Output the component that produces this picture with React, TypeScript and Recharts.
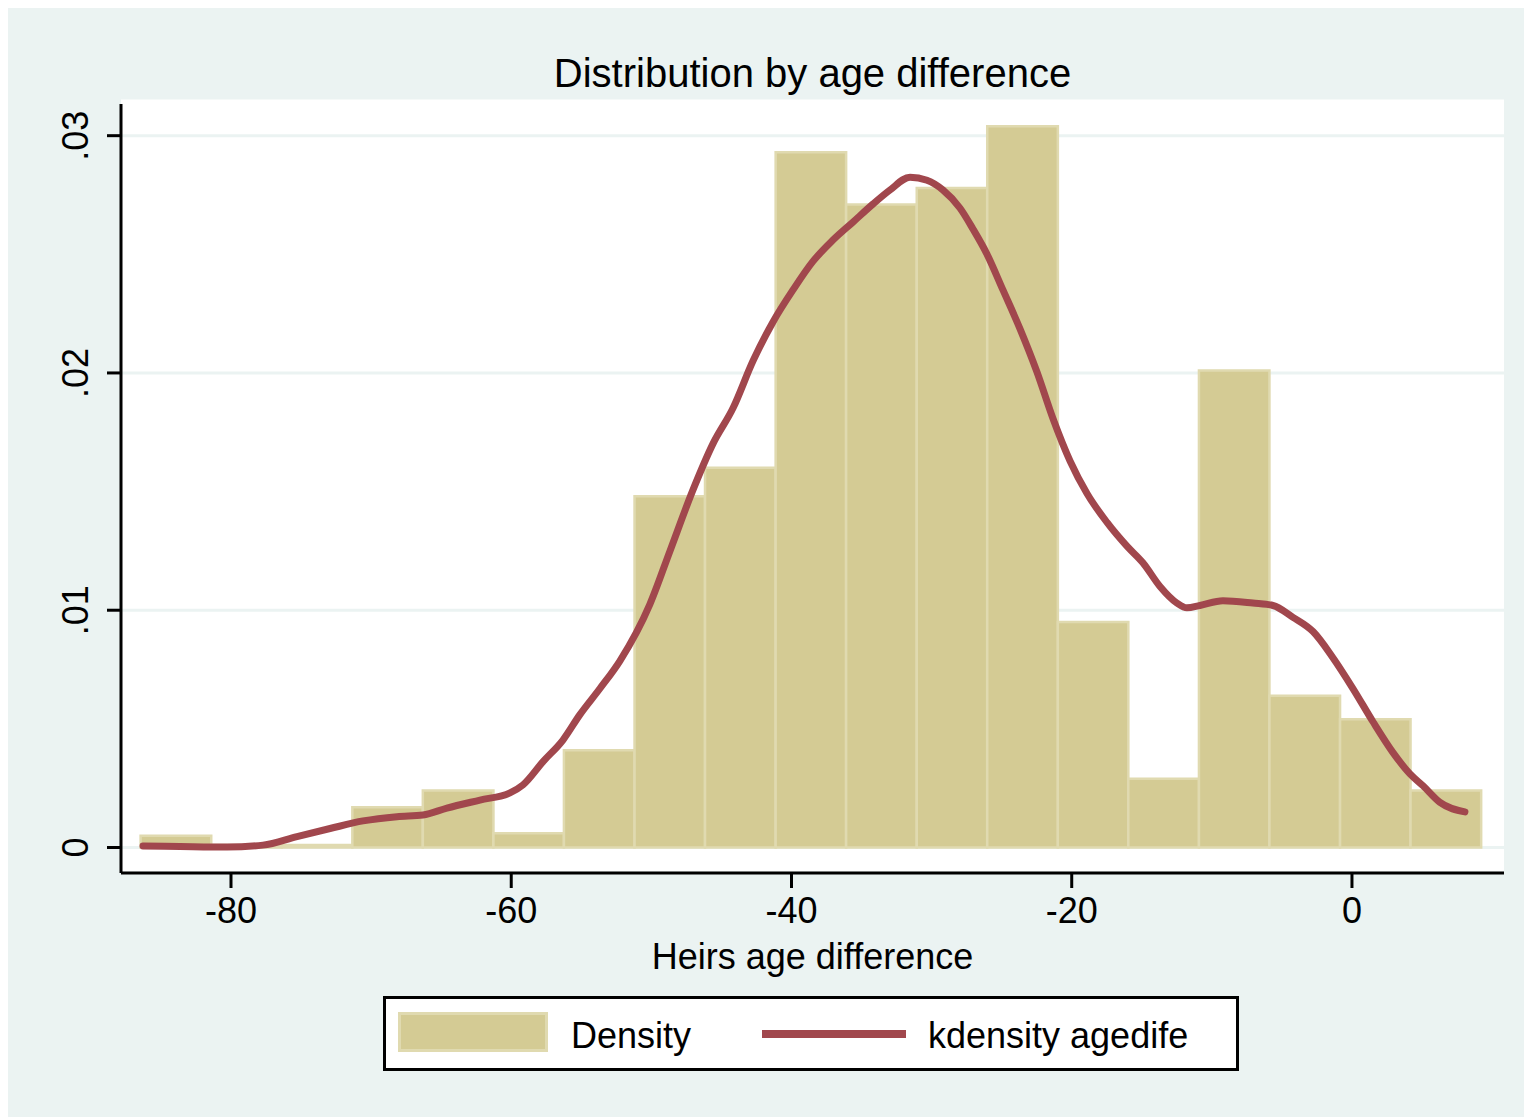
import React from 'react';
import {
  ComposedChart,
  XAxis,
  YAxis,
  CartesianGrid,
  ReferenceArea,
  ReferenceLine,
  Line,
  Legend,
} from 'recharts';

// Histogram bins of the age difference (edges) and their densities
const binEdges = [
  -86.45, -81.41, -76.38, -71.34, -66.31, -61.27, -56.24, -51.2, -46.17, -41.13,
  -36.1, -31.06, -26.03, -20.99, -15.96, -10.92, -5.89, -0.85, 4.18, 9.22,
];
const binDensity = [
  0.0005, 0.0001, 0.0001, 0.0017, 0.0024, 0.0006, 0.0041, 0.0148, 0.016, 0.0293,
  0.0271, 0.0278, 0.0304, 0.0095, 0.0029, 0.0201, 0.0064, 0.0054, 0.0024,
];

// Kernel density estimate of the same variable
const kdX = [
  -86.28, -83.64, -80.28, -77.72, -75.29, -72.93, -70.58, -68.15, -66.3, -64.59,
  -62.23, -60.09, -59.16, -57.73, -56.31, -55.1, -53.67, -52.24, -50.1, -48.67,
  -47.03, -45.6, -44.17, -42.75, -41.32, -39.89, -38.47, -37.04, -35.61, -34.18,
  -32.97, -31.54, -30.33, -29.19, -27.98, -27.05, -26.05, -24.91, -23.69, -22.48,
  -21.34, -20.12, -18.91, -17.48, -16.06, -14.92, -13.7, -12.49, -11.78, -10.85,
  -9.21, -7.07, -5.64, -4.21, -2.78, -1.36, 0.07, 1.5, 2.93, 4.14, 5.07, 6.28, 8.06,
];
const kdY = [
  0.00006, 0.00004, 0.00002, 0.0001, 0.00046, 0.0008, 0.00112, 0.0013, 0.00137, 0.00166,
  0.002, 0.0023, 0.00264, 0.00362, 0.00453, 0.0056, 0.0067, 0.00787, 0.01026, 0.0125,
  0.01507, 0.01702, 0.01852, 0.0205, 0.02215, 0.0235, 0.0247, 0.0256, 0.02636, 0.02712,
  0.02771, 0.02825, 0.02812, 0.02771, 0.02695, 0.02607, 0.02501, 0.0235, 0.02186, 0.02004,
  0.01808, 0.01629, 0.01492, 0.0137, 0.0127, 0.012, 0.011, 0.0103, 0.0101, 0.0102,
  0.0104, 0.0103, 0.0102, 0.0097, 0.0091, 0.008, 0.0067, 0.0053, 0.004, 0.0031,
  0.0026, 0.0019, 0.0015,
];

const xTicks = [-80, -60, -40, -20, 0];
const yTicks = [0, 0.01, 0.02, 0.03];
const yTickLabels = ['0', '.01', '.02', '.03'];
const legendLabels = ['Density', 'kdensity agedife'];
const chartTitle = 'Distribution by age difference';
const xAxisTitle = 'Heirs age difference';

const W = 1524;
const H = 1109;
const X_DOMAIN: [number, number] = [-87.85, 10.85];
const Y_DOMAIN: [number, number] = [-0.001075, 0.031588];
const Y_AXIS_TOP = 0.031335;

const BG = '#EBF3F2';
const BAR_FILL = '#D4CB94';
const BAR_EDGE = '#E0DAB0';
const LINE_COLOR = '#A1474D';
const FONT = '"Liberation Sans", Arial, Helvetica, sans-serif';

const renderXTick = (props: any) => {
  const { x, y, payload } = props;
  return (
    <text x={x} y={y} textAnchor="middle" fontSize={36} fill="#000" fontFamily={FONT}>
      {payload.value}
    </text>
  );
};

const renderYTick = (props: any) => {
  const { x, y, payload } = props;
  const idx = yTicks.indexOf(payload.value);
  const label = idx >= 0 ? yTickLabels[idx] : String(payload.value);
  return (
    <text
      x={x}
      y={y}
      textAnchor="middle"
      fontSize={36}
      fill="#000"
      fontFamily={FONT}
      transform={`rotate(-90, ${x}, ${y})`}
    >
      {label}
    </text>
  );
};

const renderXLabel = (props: any) => {
  const vb = props.viewBox || { x: 113, y: 865, width: 1383, height: 100 };
  return (
    <text
      x={vb.x + vb.width / 2}
      y={vb.y + 96}
      textAnchor="middle"
      fontSize={36}
      fill="#000"
      fontFamily={FONT}
    >
      {xAxisTitle}
    </text>
  );
};

const renderLegend = () => (
  <div
    style={{
      width: 856,
      height: 75,
      boxSizing: 'border-box',
      border: '3px solid #000',
      background: '#fff',
      position: 'relative',
    }}
  >
    <svg width={850} height={69} style={{ position: 'absolute', left: 0, top: 0 }}>
      <rect x={13.5} y={14.5} width={147} height={37} fill={BAR_FILL} stroke={BAR_EDGE} strokeWidth={3} />
      <text x={185} y={49} fontSize={36} fontFamily={FONT} fill="#000">
        {legendLabels[0]}
      </text>
      <line x1={376} x2={520} y1={35} y2={35} stroke={LINE_COLOR} strokeWidth={8} />
      <text x={542} y={49} fontSize={36} fontFamily={FONT} fill="#000">
        {legendLabels[1]}
      </text>
    </svg>
  </div>
);

export default function App() {
  const data = kdX.map((x, i) => ({ x, d: kdY[i] }));
  return (
    <div style={{ position: 'relative', width: W, height: H, background: BG, fontFamily: FONT }}>
      <div
        style={{
          position: 'absolute',
          left: 113,
          width: 1383,
          top: 45,
          textAlign: 'center',
          fontSize: 40,
          lineHeight: '40px',
          color: '#000',
          zIndex: 2,
        }}
      >
        {chartTitle}
      </div>
      <ComposedChart
        width={W}
        height={H}
        data={data}
        margin={{ top: 90, right: 28, bottom: 144, left: 0 }}
      >
        <CartesianGrid vertical={false} fill="#fff" fillOpacity={1} stroke={BG} strokeWidth={3} />
        <XAxis
          dataKey="x"
          type="number"
          domain={X_DOMAIN}
          ticks={xTicks}
          allowDataOverflow
          height={100}
          tickSize={15}
          tickMargin={35}
          axisLine={{ stroke: '#000', strokeWidth: 3 }}
          tickLine={{ stroke: '#000', strokeWidth: 3 }}
          tick={renderXTick}
          label={renderXLabel}
        />
        <YAxis
          type="number"
          domain={Y_DOMAIN}
          ticks={yTicks}
          allowDataOverflow
          width={113}
          axisLine={false}
          tickSize={14}
          tickMargin={19}
          tickLine={{ stroke: '#000', strokeWidth: 3 }}
          tick={renderYTick}
        />
        {binDensity.map((d, i) => (
          <ReferenceArea
            key={`bin-${i}`}
            x1={binEdges[i]}
            x2={binEdges[i + 1]}
            y1={0}
            y2={d}
            fill={BAR_FILL}
            fillOpacity={1}
            stroke={BAR_EDGE}
            strokeWidth={2.5}
            ifOverflow="visible"
          />
        ))}
        <ReferenceLine
          segment={[
            { x: X_DOMAIN[0], y: Y_DOMAIN[0] },
            { x: X_DOMAIN[0], y: Y_AXIS_TOP },
          ]}
          stroke="#000"
          strokeWidth={3}
          ifOverflow="visible"
        />
        <Line
          dataKey="d"
          type="monotone"
          stroke={LINE_COLOR}
          strokeWidth={7}
          strokeLinecap="round"
          strokeLinejoin="round"
          dot={false}
          activeDot={false}
          isAnimationActive={false}
        />
        <Legend
          content={renderLegend}
          layout="vertical"
          verticalAlign="middle"
          align="center"
          wrapperStyle={{ left: 375, top: 988, width: 856, height: 75 }}
        />
      </ComposedChart>
    </div>
  );
}
